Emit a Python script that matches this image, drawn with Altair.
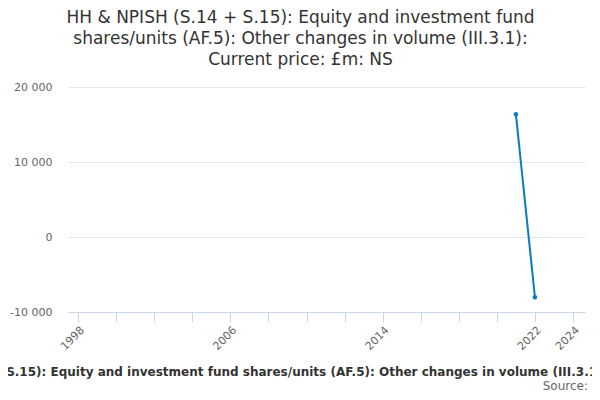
import pandas as pd
import altair as alt

# Data
years = [2021, 2022]
values = [16360, -8040]

title_lines = [
    "HH & NPISH (S.14 + S.15): Equity and investment fund",
    "shares/units (AF.5): Other changes in volume (III.3.1):",
    "Current price: £m: NS",
]
series_name = ("HH & NPISH (S.14 + S.15): Equity and investment fund shares/units (AF.5): "
               "Other changes in volume (III.3.1): Current price: £m: NS")
source_text = "Source: "

tick_years = list(range(1998, 2025, 2))
label_years = [1998, 2006, 2014, 2022, 2024]

source = pd.DataFrame({"year": years, "value": values})

font = "DejaVu Sans"
blue = "#0a7bc1"

x_enc = alt.X("year:Q",
              scale=alt.Scale(domain=[1997.47, 2024.63], nice=False, zero=False),
              axis=alt.Axis(values=tick_years, format="d", title=None, grid=False,
                            labelExpr="indexof(%s, datum.value) >= 0 ? datum.label : ''" % label_years,
                            labelAngle=-45, labelAlign="right", labelBaseline="top",
                            labelColor="#666666", labelFontSize=11, labelFont=font,
                            domainColor="#ccd6eb", tickColor="#ccd6eb", tickSize=10,
                            labelPadding=2, labelOverlap=False))
y_enc = alt.Y("value:Q",
              scale=alt.Scale(domain=[-10000, 20000], nice=False),
              axis=alt.Axis(values=[-10000, 0, 10000, 20000], title=None,
                            labelExpr="replace(replace(format(datum.value, ','), ',', ' '), '−', '-')",
                            labelColor="#666666", labelFontSize=11, labelFont=font,
                            domain=False, ticks=False, gridColor="#e6e6e6", labelPadding=16))

line = alt.Chart(source).mark_line(color=blue, strokeWidth=2,
                                   point=alt.OverlayMarkDef(color=blue, size=20, filled=True)).encode(
    x=x_enc, y=y_enc
)

# series label under the plot, wider than the page as in the original
label_df = pd.DataFrame({"name": [series_name], "src": [source_text]})
legend = alt.Chart(label_df).mark_text(font=font, fontSize=12, fontWeight="bold", color="#333333",
                                        align="center", baseline="middle").encode(
    x=alt.value(245), y=alt.value(285), text="name:N"
)
src = alt.Chart(label_df).mark_text(font=font, fontSize=12, color="#666666",
                                     align="right", baseline="middle").encode(
    x=alt.value(520), y=alt.value(299), text="src:N"
)

chart = alt.layer(line, legend, src).properties(
    width=517,
    height=225,
    title=alt.Title(title_lines, font=font, fontSize=17, fontWeight="normal", color="#333333",
                    lineHeight=21, anchor="middle", dx=-26, offset=12),
    autosize=alt.AutoSizeParams(type="none"),
    padding={"left": 60, "top": 79, "right": 7, "bottom": 80},
).configure_view(stroke=None)

chart.save("out.html", embed_options={"renderer": "svg", "actions": False})
